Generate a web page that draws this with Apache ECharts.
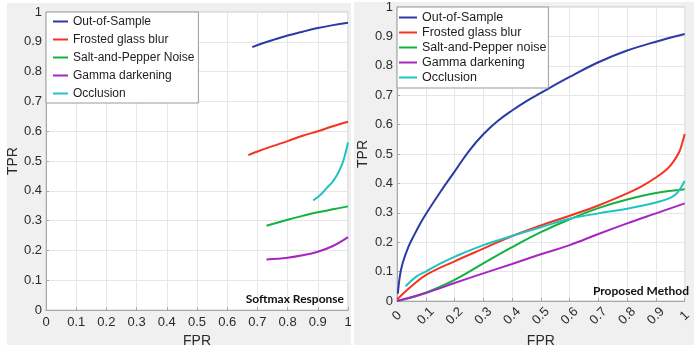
<!DOCTYPE html>
<html>
<head>
<meta charset="utf-8">
<script src="https://cdn.jsdelivr.net/npm/echarts@6/dist/echarts.min.js"></script>
<style>
  html, body { margin: 0; padding: 0; background: #ffffff; }
  #wrap { position: relative; width: 694px; height: 353px; }
  .panel { position: absolute; background: #f0f0f0; }
  #chart { position: absolute; left: 0; top: 0; width: 694px; height: 353px; }
</style>
</head>
<body>
<div id="wrap">
  <div class="panel" style="left:7px;top:3px;width:344px;height:342px"></div>
  <div class="panel" style="left:354px;top:2px;width:340px;height:343px"></div>
  <div id="chart"></div>
</div>
<script>
// Legend entries for each panel
const namesSoftmax = ['Out-of-Sample', 'Frosted glass blur', 'Salt-and-Pepper Noise', 'Gamma darkening', 'Occlusion'];
const namesProposed = ['Out-of-Sample', 'Frosted glass blur', 'Salt-and-Pepper noise', 'Gamma darkening', 'Occlusion'];
const lineColors = ['#2a3aa6', '#f7321e', '#12b241', '#a626c0', '#21c2c2'];

// Axis ticks (shared by both panels)
const tickMin = 0, tickMax = 1, tickStep = 0.1;

// Softmax Response ROC curves, [FPR, TPR]
const smOutOfSample = [[0.683,0.882],[0.72,0.896],[0.76,0.909],[0.8,0.921],[0.85,0.934],[0.9,0.946],[0.95,0.956],[1.0,0.964]];
const smFrosted = [[0.67,0.52],[0.7,0.532],[0.75,0.55],[0.8,0.567],[0.85,0.585],[0.9,0.60],[0.95,0.617],[1.0,0.632]];
const smSaltPepper = [[0.73,0.283],[0.8,0.303],[0.85,0.316],[0.9,0.328],[0.95,0.338],[1.0,0.348]];
const smGamma = [[0.73,0.17],[0.8,0.176],[0.85,0.184],[0.9,0.196],[0.95,0.215],[1.0,0.245]];
const smOcclusion = [[0.885,0.368],[0.91,0.388],[0.93,0.41],[0.95,0.432],[0.965,0.456],[0.98,0.488],[0.99,0.52],[1.0,0.562]];

// Proposed Method ROC curves, [FPR, TPR]
const pmOutOfSample = [[0.003,0.025],[0.01,0.085],[0.02,0.13],[0.04,0.185],[0.06,0.225],[0.08,0.262],[0.1,0.295],[0.15,0.37],[0.2,0.44],[0.25,0.51],[0.3,0.567],[0.35,0.612],[0.4,0.648],[0.45,0.68],[0.5,0.708],[0.6,0.762],[0.7,0.812],[0.8,0.852],[0.9,0.882],[1.0,0.908]];
const pmFrosted = [[0,0.005],[0.05,0.05],[0.1,0.088],[0.2,0.135],[0.3,0.178],[0.4,0.221],[0.5,0.257],[0.6,0.29],[0.7,0.325],[0.8,0.366],[0.85,0.39],[0.9,0.42],[0.94,0.45],[0.96,0.473],[0.98,0.505],[0.99,0.533],[1.0,0.568]];
const pmSaltPepper = [[0,0.0],[0.05,0.012],[0.1,0.028],[0.2,0.072],[0.3,0.128],[0.4,0.183],[0.5,0.234],[0.6,0.278],[0.7,0.316],[0.8,0.345],[0.9,0.367],[1.0,0.38]];
const pmGamma = [[0,0],[0.1,0.027],[0.2,0.061],[0.3,0.094],[0.4,0.126],[0.5,0.159],[0.6,0.19],[0.7,0.228],[0.8,0.264],[0.9,0.298],[1.0,0.332]];
const pmOcclusion = [[0.03,0.05],[0.067,0.083],[0.1,0.1],[0.15,0.127],[0.2,0.15],[0.3,0.19],[0.4,0.221],[0.5,0.251],[0.6,0.28],[0.7,0.298],[0.8,0.314],[0.9,0.335],[0.95,0.351],[0.97,0.364],[0.985,0.383],[1.0,0.408]];

const softmaxCurves = [smOutOfSample, smFrosted, smSaltPepper, smGamma, smOcclusion];
const proposedCurves = [pmOutOfSample, pmFrosted, pmSaltPepper, pmGamma, pmOcclusion];

const FONT = '"Liberation Sans", Arial, Helvetica, sans-serif';
const AXIS_COLOR = '#a8a8a8';
const LABEL_COLOR = '#2b2b2b';

function fmtTick(v) {
  return (Math.abs(v) < 1e-9) ? '0' : (Math.abs(v - 1) < 1e-9 ? '1' : v.toFixed(1));
}

function valueAxis(gridIndex, extra) {
  return Object.assign({
    type: 'value', gridIndex: gridIndex,
    min: tickMin, max: tickMax, interval: tickStep,
    axisLine: { show: true, lineStyle: { color: AXIS_COLOR, width: 1 } },
    axisTick: { show: true, inside: true, length: 3, lineStyle: { color: AXIS_COLOR } },
    splitLine: { show: true, lineStyle: { color: '#e6e6e6', width: 1 } },
    nameLocation: 'middle',
    nameTextStyle: { fontFamily: FONT, fontSize: 14, color: LABEL_COLOR }
  }, extra);
}

function curveSeries(names, curves, axisIndex) {
  return curves.map((data, i) => ({
    type: 'line', name: names[i], data: data,
    xAxisIndex: axisIndex, yAxisIndex: axisIndex,
    symbol: 'none', showSymbol: false, smooth: 0.4,
    clip: true, silent: true,
    lineStyle: { width: 2, color: lineColors[i] },
    itemStyle: { color: lineColors[i] }
  }));
}

function legendFor(names, left, top, fontSize, itemWidth, itemGap, padding) {
  return {
    orient: 'vertical', left: left, top: top, data: names,
    icon: 'rect', itemWidth: itemWidth, itemHeight: 2, itemGap: itemGap,
    padding: padding, backgroundColor: '#ffffff',
    borderColor: '#9a9a9a', borderWidth: 1, borderRadius: 0,
    selectedMode: false,
    textStyle: { fontFamily: FONT, fontSize: fontSize, lineHeight: 13, color: '#1e1e1e' }
  };
}

const chart = echarts.init(document.getElementById('chart'), null, { renderer: 'canvas' });
chart.setOption({
  backgroundColor: 'transparent',
  animation: false,
  grid: [
    { left: 46, top: 12, width: 302, height: 300, show: true, backgroundColor: '#ffffff', borderColor: '#c8c8c8', borderWidth: 1 },
    { left: 397, top: 7, width: 296, height: 298, show: true, backgroundColor: '#ffffff', borderColor: '#c8c8c8', borderWidth: 1 }
  ],
  xAxis: [
    valueAxis(0, {
      name: 'FPR', nameGap: 21,
      axisLabel: { fontFamily: FONT, fontSize: 13, color: LABEL_COLOR, margin: 6, formatter: fmtTick }
    }),
    valueAxis(1, {
      name: 'FPR', nameGap: 27,
      axisLabel: { fontFamily: FONT, fontSize: 13, color: LABEL_COLOR, margin: 15, rotate: 45,
                   align: 'center', verticalAlign: 'middle', formatter: fmtTick }
    })
  ],
  yAxis: [
    valueAxis(0, {
      name: 'TPR', nameGap: 22,
      axisLabel: { fontFamily: FONT, fontSize: 13, color: LABEL_COLOR, margin: 4, formatter: fmtTick }
    }),
    valueAxis(1, {
      name: 'TPR', nameGap: 27,
      axisLabel: { fontFamily: FONT, fontSize: 13, color: LABEL_COLOR, margin: 4, formatter: fmtTick }
    })
  ],
  legend: [
    legendFor(namesSoftmax, 46, 12, 12, 15, 5, [3, 4, 3, 7]),
    legendFor(namesProposed, 397, 7, 12.5, 18, 2, [4, 2, 4, 2])
  ],
  graphic: [
    { type: 'text', right: 350, top: 293, z: 100,
      style: { text: 'Softmax Response', font: 'bold 12px Lato, "Open Sans", sans-serif', fill: '#111111' } },
    { type: 'text', right: 5, top: 285, z: 100,
      style: { text: 'Proposed Method', font: 'bold 12px Lato, "Open Sans", sans-serif', fill: '#111111' } }
  ],
  series: [].concat(
    curveSeries(namesSoftmax, softmaxCurves, 0),
    curveSeries(namesProposed, proposedCurves, 1)
  )
});
</script>
</body>
</html>
